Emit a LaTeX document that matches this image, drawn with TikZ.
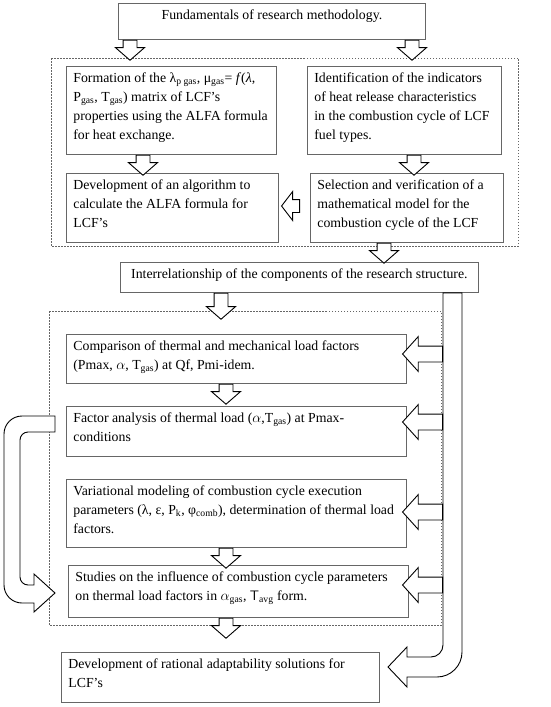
\documentclass[tikz,border=0pt]{standalone}
\usepackage{fontspec}
\setmainfont{Liberation Serif}
\usetikzlibrary{shapes.arrows}
\definecolor{boxgray}{gray}{0.4}
\newcommand{\boxtext}[3]{\parbox[t][\dimexpr#2pt-6pt\relax][t]{\dimexpr#1pt-14pt\relax}{\raggedright\strut#3}}
\newcommand{\ctrtext}[3]{\parbox[t][\dimexpr#2pt-6pt\relax][t]{\dimexpr#1pt-14pt\relax}{\centering\strut#3}}
\tikzset{
  box/.style={draw=boxgray, line width=0.8pt, anchor=north west, inner xsep=7pt, inner ysep=3pt, font=\fontsize{13.8}{19}\selectfont},
  group/.style={draw=boxgray, line width=0.7pt, dash pattern=on 1.5pt off 1.5pt},
  blockarr/.style={single arrow, draw=black, line width=0.9pt, fill=white},
  downarr/.style={blockarr, shape border rotate=270, inner sep=6.5pt, single arrow head extend=7.5pt, single arrow tip angle=98, minimum height=#1},
  leftarr/.style={blockarr, shape border rotate=180, inner sep=7.5pt, single arrow head extend=9.5pt, single arrow tip angle=96, minimum height=#1},
  bigarr/.style={draw=black, line width=0.9pt, fill=white}
}
\begin{document}
\begin{tikzpicture}[x=1pt,y=-1pt]
\useasboundingbox (0,0) rectangle (550,707);

\draw[group] (51,58) rectangle (518,246);
\draw[group] (49,311) rectangle (441,625);

\node[box] (top) at (118,3) {\ctrtext{307}{36}{Fundamentals of research methodology.}};
\node[box] (formation) at (66,66) {\boxtext{210}{88}{Formation of the λ\textsubscript{p gas}, μ\textsubscript{gas}= \textit{f}(\textit{λ},\\ P\textsubscript{gas}, T\textsubscript{gas}) matrix of LCF's\\ properties using the ALFA formula\\ for heat exchange.}};
\node[box] (identif) at (307,66) {\boxtext{194}{88}{Identification of the indicators\\ of heat release characteristics\\ in the combustion cycle of LCF\\ fuel types.}};
\node[box] (algor) at (66,173) {\boxtext{212}{69}{Development of an algorithm to\\ calculate the ALFA formula for\\ LCF's}};
\node[box] (select) at (310,173) {\boxtext{193}{69}{Selection and verification of a\\ mathematical model for the\\ combustion cycle of the LCF}};
\node[box] (interrel) at (120,262) {\ctrtext{358}{30}{Interrelationship of the components of the research structure.}};
\node[box] (compar) at (66,334) {\boxtext{340}{49}{Comparison of thermal and mechanical load factors\\ (Pmax, $\alpha$, T\textsubscript{gas}) at Qf, Pmi-idem.}};
\node[box] (factor) at (66,406) {\boxtext{340}{50}{Factor analysis of thermal load ($\alpha$,T\textsubscript{gas}) at Pmax-\\ conditions}};
\node[box] (variat) at (66,479) {\boxtext{340}{68}{Variational modeling of combustion cycle execution\\ parameters (λ, ε, P\textsubscript{k}, φ\textsubscript{comb}), determination of thermal load\\ factors.}};
\node[box] (studies) at (68,565) {\boxtext{340}{52}{Studies on the influence of combustion cycle parameters\\ on thermal load factors in $\alpha$\textsubscript{gas}, \textsf{T}\textsubscript{avg} form.}};
\node[box] (ration) at (61,652) {\boxtext{318}{50}{Development of rational adaptability solutions for\\ LCF's}};

% arrows down the chain
\node[downarr=20pt, anchor=tail] (a1) at (130,0 |- top.south) {};
\node[downarr=20pt, anchor=tail] (a2) at (412,0 |- top.south) {};
\node[downarr=20pt, anchor=tail] (a3) at (143,0 |- formation.south) {};
\node[downarr=19pt, anchor=tail] (a4) at (414,0 |- identif.south) {};
\node[leftarr=18pt, inner sep=6pt, single arrow head extend=8pt, single arrow tip angle=105, anchor=tail] (a5) at (300,206) {};
\node[downarr=19pt, anchor=tail] (a6) at (384,0 |- select.south) {};
\node[downarr=26pt, anchor=tail] (a7) at (221,0 |- interrel.south) {};
\node[downarr=15pt, anchor=tail] (a8) at (226,0 |- compar.south) {};
\node[downarr=15pt, anchor=tail] (a9) at (226,0 |- variat.south) {};
\node[downarr=20pt, anchor=tail] (a10) at (226,0 |- studies.south) {};

% big bar on the right
\draw[bigarr] (443,0 |- interrel.south) -- (462,0 |- interrel.south)
  [rounded corners=25pt] -- (462,677) [sharp corners] -- (407,677) -- (407,687)
  -- (388,667) -- (407,647) -- (407,657) [rounded corners=12pt] -- (443,657) [sharp corners] -- cycle;
\node[leftarr=40pt, anchor=tail] (b1) at (443,354) {};
\node[leftarr=40pt, anchor=tail] (b2) at (443,422) {};
\node[leftarr=40pt, anchor=tail] (b3) at (443,512) {};
\node[leftarr=40pt, anchor=tail] (b4) at (443,585) {};

% feedback on the left
\draw[bigarr] (55,416) [rounded corners=18pt] -- (4,416) -- (4,603) [sharp corners] -- (34,603) -- (34,612)
  -- (55,593) -- (34,574) -- (34,585) [rounded corners=8pt] -- (20,585) -- (20,432) [sharp corners] -- (55,432) -- cycle;
\end{tikzpicture}
\end{document}
